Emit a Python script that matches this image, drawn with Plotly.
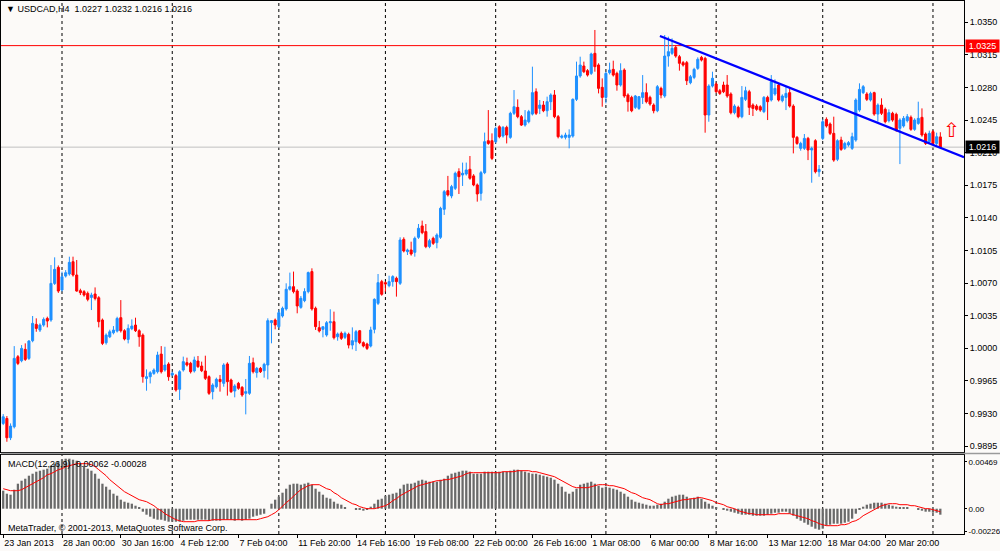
import plotly.graph_objects as go

# ---------------- data ----------------
bars = list(range(256))

opens = [0.99194,0.99247,0.99040,0.99158,0.99910,0.99867,0.99989,0.99892,1.00082,1.00257,
1.00196,1.00250,1.00321,1.00304,1.00697,1.00869,1.00626,1.00776,1.00798,1.00930,
1.00787,1.00619,1.00608,1.00590,1.00547,1.00583,1.00543,1.00304,1.00060,1.00124,
1.00167,1.00185,1.00329,1.00189,1.00096,1.00211,1.00250,1.00189,1.00142,0.99677,
0.99695,0.99731,0.99749,0.99938,0.99767,0.99831,0.99714,0.99707,0.99560,0.99767,
0.99846,0.99839,0.99757,0.99864,0.99810,0.99757,0.99696,0.99535,0.99588,0.99667,
0.99624,0.99832,0.99660,0.99542,0.99624,0.99581,0.99517,0.99517,0.99846,0.99739,
0.99785,0.99760,0.99821,1.00276,1.00304,1.00233,1.00347,1.00423,1.00634,1.00662,
1.00616,1.00440,1.00512,1.00609,1.00824,1.00430,1.00222,1.00204,1.00143,1.00275,
1.00286,1.00125,1.00161,1.00118,1.00150,1.00035,1.00071,1.00189,1.00061,1.00046,
1.00025,1.00204,1.00483,1.00716,1.00705,1.00673,1.00716,1.00752,1.00698,1.01170,
1.01038,1.01056,1.01031,1.01192,1.01314,1.01253,1.01092,1.01181,1.01135,1.01192,
1.01493,1.01693,1.01636,1.01718,1.01897,1.01861,1.01872,1.01922,1.01851,1.01754,
1.01664,1.01886,1.02229,1.02229,1.02218,1.02379,1.02279,1.02372,1.02265,1.02523,
1.02587,1.02487,1.02397,1.02433,1.02515,1.02755,1.02576,1.02612,1.02551,1.02648,
1.02720,1.02487,1.02265,1.02265,1.02265,1.02279,1.02673,1.02924,1.03031,1.02981,
1.02952,1.03167,1.03042,1.02802,1.02694,1.02959,1.02995,1.02952,1.02827,1.02988,
1.02720,1.02694,1.02587,1.02576,1.02694,1.02745,1.02694,1.02612,1.02551,1.02791,
1.02709,1.03138,1.03167,1.03231,1.03131,1.03067,1.03067,1.02852,1.02909,1.03006,
1.03124,1.03113,1.02505,1.02816,1.02838,1.02766,1.02827,1.02827,1.02730,1.02530,
1.02587,1.02487,1.02673,1.02755,1.02612,1.02601,1.02594,1.02541,1.02694,1.02666,
1.02730,1.02827,1.02659,1.02694,1.02745,1.02601,1.02265,1.02147,1.02147,1.02254,
1.02129,1.02229,1.01896,1.02254,1.02458,1.02408,1.02308,1.02029,1.02236,1.02147,
1.02183,1.02147,1.02236,1.02558,1.02745,1.02730,1.02666,1.02745,1.02515,1.02612,
1.02566,1.02444,1.02523,1.02512,1.02362,1.02387,1.02444,1.02480,1.02351,1.02415,
1.02480,1.02301,1.02218,1.02326,1.02200,1.02270]

highs = [0.99294,0.99273,0.99194,1.00024,0.99928,1.00035,1.00053,1.00089,1.00347,1.00322,
1.00268,1.00332,1.00340,1.00894,1.00977,1.00890,1.00823,1.00840,1.00984,1.00984,
1.00948,1.00640,1.00625,1.00610,1.00597,1.00654,1.00560,1.00320,1.00160,1.00200,
1.00239,1.00339,1.00518,1.00205,1.00257,1.00311,1.00329,1.00205,1.00160,0.99774,
0.99755,0.99785,0.99964,1.00024,1.00017,0.99850,0.99750,0.99725,0.99765,0.99911,
0.99900,0.99855,0.99911,0.99918,0.99857,0.99921,0.99710,0.99625,0.99685,0.99714,
0.99840,0.99850,0.99675,0.99615,0.99640,0.99595,0.99671,0.99918,0.99900,0.99800,
0.99800,0.99845,1.00322,1.00304,1.00320,1.00412,1.00448,1.00698,1.00813,1.00824,
1.00635,1.00562,1.00645,1.00824,1.00859,1.00448,1.00294,1.00232,1.00293,1.00419,
1.00394,1.00170,1.00180,1.00180,1.00168,1.00225,1.00197,1.00197,1.00075,1.00060,
1.00232,1.00537,1.00798,1.00735,1.00720,1.00780,1.00785,1.00770,1.01192,1.01192,
1.01070,1.01145,1.01200,1.01335,1.01371,1.01335,1.01175,1.01199,1.01235,1.01520,
1.01700,1.01851,1.01755,1.01897,1.01933,1.01994,1.01994,1.02065,1.01870,1.01770,
1.01905,1.02316,1.02558,1.02308,1.02380,1.02395,1.02387,1.02390,1.02540,1.02773,
1.02673,1.02505,1.02558,1.02560,1.03024,1.02791,1.02666,1.02655,1.02702,1.02738,
1.02773,1.02505,1.02295,1.02315,1.02351,1.02684,1.03078,1.03131,1.03078,1.02998,
1.03174,1.03418,1.03060,1.02898,1.02970,1.03067,1.03088,1.02970,1.03060,1.03006,
1.02738,1.02712,1.02720,1.02709,1.02934,1.02845,1.02712,1.02630,1.02827,1.02809,
1.03364,1.03346,1.03328,1.03250,1.03150,1.03085,1.03085,1.02935,1.03012,1.03124,
1.03140,1.03130,1.02835,1.02970,1.02855,1.02785,1.02863,1.02934,1.02748,1.02620,
1.02605,1.02816,1.02809,1.02775,1.02630,1.02620,1.02610,1.02709,1.02712,1.02934,
1.02888,1.02845,1.02727,1.02809,1.02791,1.02620,1.02280,1.02218,1.02301,1.02270,
1.02165,1.02245,1.01968,1.02458,1.02480,1.02425,1.02487,1.02245,1.02272,1.02218,
1.02225,1.02315,1.02684,1.02845,1.02827,1.02750,1.02755,1.02755,1.02630,1.02684,
1.02585,1.02566,1.02540,1.02530,1.02470,1.02494,1.02515,1.02500,1.02470,1.02648,
1.02576,1.02318,1.02337,1.02344,1.02315,1.02320]

lows = [0.99176,0.98997,0.99015,0.99140,0.99820,0.99850,0.99865,0.99875,1.00065,1.00178,
1.00175,1.00232,1.00225,1.00285,1.00680,1.00595,1.00610,1.00760,1.00780,1.00770,
1.00608,1.00572,1.00555,1.00505,1.00411,1.00515,1.00225,1.00035,1.00040,1.00110,
1.00150,1.00170,1.00170,1.00085,1.00053,1.00195,1.00175,1.00017,0.99631,0.99545,
0.99623,0.99715,0.99730,0.99730,0.99750,0.99652,0.99700,0.99535,0.99445,0.99750,
0.99805,0.99730,0.99740,0.99790,0.99745,0.99660,0.99500,0.99452,0.99570,0.99535,
0.99588,0.99492,0.99520,0.99474,0.99555,0.99480,0.99291,0.99500,0.99730,0.99685,
0.99735,0.99685,0.99667,1.00054,1.00204,1.00215,1.00330,1.00405,1.00620,1.00590,
1.00376,1.00425,1.00495,1.00590,1.00405,1.00197,1.00170,1.00118,1.00125,1.00189,
1.00095,1.00082,1.00090,1.00100,0.99999,0.99989,0.99971,1.00045,1.00010,0.99982,
1.00010,1.00161,1.00465,1.00565,1.00608,1.00655,1.00662,1.00555,1.00680,1.01030,
1.01002,1.00995,1.00984,1.01175,1.01225,1.01075,1.01075,1.01110,1.01074,1.01175,
1.01432,1.01630,1.01611,1.01700,1.01657,1.01743,1.01855,1.01810,1.01740,1.01575,
1.01586,1.01870,1.02185,1.02021,1.02200,1.02255,1.02262,1.02200,1.02250,1.02505,
1.02470,1.02387,1.02380,1.02415,1.02500,1.02505,1.02515,1.02535,1.02487,1.02558,
1.02470,1.02254,1.02250,1.02243,1.02147,1.02262,1.02655,1.02905,1.02955,1.02918,
1.02935,1.02970,1.02737,1.02594,1.02630,1.02940,1.02918,1.02766,1.02810,1.02690,
1.02541,1.02535,1.02570,1.02560,1.02623,1.02630,1.02605,1.02523,1.02535,1.02684,
1.02690,1.03024,1.03150,1.03120,1.02981,1.03025,1.02827,1.02835,1.02890,1.02990,
1.03080,1.02315,1.02433,1.02800,1.02740,1.02720,1.02740,1.02690,1.02512,1.02512,
1.02470,1.02470,1.02655,1.02505,1.02494,1.02550,1.02540,1.02525,1.02451,1.02650,
1.02712,1.02650,1.02641,1.02558,1.02585,1.02093,1.02185,1.02122,1.02130,1.02021,
1.01778,1.01878,1.01842,1.02236,1.02370,1.02290,1.02003,1.02010,1.02120,1.02130,
1.02165,1.02130,1.02218,1.02540,1.02730,1.02655,1.02650,1.02497,1.02433,1.02505,
1.02415,1.02425,1.02433,1.02325,1.01978,1.02370,1.02425,1.02335,1.02335,1.02400,
1.02272,1.02183,1.02200,1.02183,1.02183,1.02160]

closes = [0.99265,0.99040,0.99165,0.99892,0.99838,0.99999,0.99881,1.00078,1.00268,1.00214,
1.00250,1.00311,1.00293,1.00697,1.00848,1.00615,1.00769,1.00812,1.00923,1.00787,
1.00615,1.00597,1.00572,1.00526,1.00572,1.00536,1.00286,1.00053,1.00142,1.00178,
1.00196,1.00321,1.00189,1.00100,1.00214,1.00239,1.00189,1.00125,0.99695,0.99695,
0.99738,0.99767,0.99928,0.99749,0.99820,0.99695,0.99732,0.99553,0.99749,0.99857,
0.99821,0.99749,0.99875,0.99803,0.99760,0.99678,0.99517,0.99606,0.99667,0.99642,
0.99821,0.99642,0.99535,0.99596,0.99571,0.99499,0.99535,0.99839,0.99749,0.99785,
0.99749,0.99828,1.00297,1.00297,1.00251,1.00383,1.00430,1.00634,1.00662,1.00609,
1.00455,1.00537,1.00609,1.00813,1.00423,1.00233,1.00186,1.00232,1.00275,1.00286,
1.00114,1.00154,1.00107,1.00161,1.00035,1.00082,1.00179,1.00061,1.00025,0.99999,
1.00197,1.00526,1.00705,1.00580,1.00691,1.00716,1.00770,1.00716,1.01163,1.01045,
1.01056,1.01013,1.01181,1.01289,1.01242,1.01092,1.01156,1.01127,1.01217,1.01503,
1.01682,1.01647,1.01736,1.01879,1.01843,1.01879,1.01915,1.01826,1.01754,1.01657,
1.01886,1.02219,1.02200,1.02039,1.02361,1.02272,1.02372,1.02290,1.02523,1.02594,
1.02487,1.02397,1.02451,1.02541,1.02745,1.02523,1.02612,1.02551,1.02648,1.02720,
1.02487,1.02272,1.02279,1.02290,1.02290,1.02673,1.02924,1.03042,1.02970,1.02934,
1.03160,1.03024,1.02791,1.02694,1.02952,1.02988,1.02934,1.02827,1.02981,1.02709,
1.02648,1.02551,1.02709,1.02702,1.02745,1.02648,1.02623,1.02551,1.02809,1.02720,
1.03138,1.03185,1.03221,1.03138,1.03060,1.03042,1.02873,1.02916,1.02995,1.03103,
1.03095,1.02505,1.02816,1.02899,1.02755,1.02737,1.02755,1.02709,1.02530,1.02601,
1.02487,1.02694,1.02766,1.02587,1.02576,1.02566,1.02558,1.02694,1.02648,1.02863,
1.02791,1.02666,1.02709,1.02737,1.02601,1.02265,1.02200,1.02200,1.02254,1.02129,
1.02147,1.01896,1.01921,1.02433,1.02387,1.02308,1.02021,1.02229,1.02136,1.02200,
1.02208,1.02272,1.02666,1.02780,1.02809,1.02673,1.02737,1.02515,1.02612,1.02523,
1.02433,1.02530,1.02451,1.02344,1.02451,1.02469,1.02487,1.02351,1.02451,1.02469,
1.02290,1.02200,1.02308,1.02200,1.02272,1.02160]

# MACD(12,26,9), values in units of 0.0001
macd_main_e4 = [18,15,14,19,25,28,30,33,35,37,
38,39,40,43,45,47,49,50,50,49,
48,45,43,40,38,35,30,25,22,19,
15,13,9,7,6,5,3,1,-3,-6,
-8,-10,-11,-11,-12,-13,-13,-13,-13,-12,
-11,-11,-11,-11,-11,-11,-12,-12,-12,-12,
-11,-11,-11,-12,-11,-12,-11,-10,-8,-7,
-6,-5,0,5,9,12,16,20,24,25,
25,24,25,26,24,20,17,14,11,10,
7,5,4,1,0,0,-1,-1,-2,-1,
2,5,9,10,13,14,15,16,20,24,
25,25,26,28,29,28,27,27,27,29,
30,33,35,36,37,38,38,37,35,35,
35,37,37,37,37,37,37,37,38,39,
39,38,37,36,35,35,34,33,32,31,
29,25,22,17,15,17,20,24,25,26,
27,25,23,21,22,21,20,19,17,15,
12,9,7,6,5,4,3,3,4,5,
7,10,12,13,14,14,12,10,11,12,
10,7,5,3,1,0,-1,-2,-3,-4,
-5,-6,-6,-6,-7,-7,-7,-7,-6,-5,
-4,-4,-3,-3,-5,-7,-10,-12,-14,-16,
-18,-20,-21,-20,-17,-16,-15,-15,-15,-14,
-13,-10,-5,-1,2,4,5,6,6,6,
5,4,3,2,1,1,1,0,0,-1,
-2,-3,-3,-4,-4,-6]

macd_signal_e4 = [20,19,18,18,18,19,21,23,25,27,
29,31,34,35,37,39,40,42,43,44,
45,45,45,45,44,42,39,36,33,29,
26,23,20,17,15,13,11,9,8,7,
5,3,0,-2,-5,-7,-9,-11,-12,-13,
-13,-13,-13,-12,-12,-12,-12,-11,-11,-11,
-11,-11,-11,-11,-11,-11,-11,-11,-11,-11,
-10,-9,-8,-6,-4,-1,3,6,9,13,
16,19,21,23,24,24,24,22,20,19,
16,14,11,9,7,5,4,2,1,0,
0,0,1,2,3,5,8,10,13,15,
17,19,21,23,24,25,26,27,28,28,
29,29,30,31,32,33,35,36,36,36,
36,36,36,36,36,36,37,37,37,37,
38,38,38,38,37,37,36,35,34,33,
32,30,28,26,24,22,21,21,21,21,
22,23,24,24,24,23,23,22,21,20,
18,16,15,13,11,10,9,7,5,4,
5,5,6,7,8,9,9,10,10,11,
11,10,9,8,6,5,4,2,1,0,
-2,-3,-4,-5,-5,-6,-6,-6,-6,-6,
-6,-5,-5,-5,-5,-6,-7,-8,-9,-10,
-12,-13,-15,-16,-17,-17,-17,-17,-16,-16,
-15,-13,-12,-10,-7,-5,-3,-1,1,3,
4,5,5,5,4,4,4,3,3,2,
1,0,0,-1,-2,-3]

time_tick_bars = [0,16,32,48,64,80,96,112,128,144,160,176,192,208,224,240]
time_tick_labels = ["23 Jan 2013","28 Jan 00:00","30 Jan 16:00","4 Feb 12:00","7 Feb 04:00",
                    "11 Feb 20:00","14 Feb 16:00","19 Feb 08:00","22 Feb 00:00","26 Feb 16:00",
                    "1 Mar 08:00","6 Mar 00:00","8 Mar 16:00","13 Mar 12:00","18 Mar 04:00",
                    "20 Mar 20:00"]
week_separator_bars = [16,46,75,104,134,164,194,223,253]

price_tick_values = [1.0350,1.0315,1.0280,1.0245,1.0210,1.0175,1.0140,1.0105,1.0070,
                     1.0035,1.0000,0.9965,0.9930,0.9895]
macd_tick_values = [0.00469,0.0,-0.00226]
macd_tick_labels = ["0.00469","0.00","-0.00226"]

alert_level = 1.0325
bid_level = 1.0216
trend_bars = [178.7,261.44]
trend_prices = [1.03353,1.02051]
arrow_bar = 258.0
arrow_price = 1.02340

header_text = "▼ USDCAD,H4  1.0227 1.0232 1.0216 1.0216"
macd_text = "MACD(12,26,9) -0.00062 -0.00028"
copyright_text = "MetaTrader, © 2001-2013, MetaQuotes Software Corp."

# ---------------- figure ----------------
FONT = "Liberation Sans"
BG = "#FCFAF8"
W, H = 1000, 551
ML, MR, MT, MB = 1, 36, 1, 17
PH = H - MT - MB

def py(pix):   # pixel row -> paper y
    return (H - MB - pix) / PH

main_dom = [py(452), 1.0]
macd_dom = [0.0, py(455)]

fig = go.Figure()

fig.add_trace(go.Candlestick(
    x=bars, open=opens, high=highs, low=lows, close=closes,
    increasing=dict(line=dict(color="#1E90FF", width=1), fillcolor="#1E90FF"),
    decreasing=dict(line=dict(color="#FF0000", width=1), fillcolor="#FF0000"),
    whiskerwidth=0, xaxis="x", yaxis="y", showlegend=False, hoverinfo="skip"))

fig.add_trace(go.Scatter(x=trend_bars, y=trend_prices, mode="lines",
                         line=dict(color="#0000FF", width=2.2),
                         xaxis="x", yaxis="y", showlegend=False, hoverinfo="skip",
                         cliponaxis=True))

fig.add_trace(go.Bar(x=bars, y=[v * 1e-4 for v in macd_main_e4],
                     marker=dict(color="#6A6A6A", line=dict(width=0)),
                     width=0.62, xaxis="x2", yaxis="y2", showlegend=False, hoverinfo="skip"))
fig.add_trace(go.Scatter(x=bars, y=[v * 1e-4 for v in macd_signal_e4], mode="lines",
                         line=dict(color="#FF0000", width=1),
                         xaxis="x2", yaxis="y2", showlegend=False, hoverinfo="skip"))

xr = [-0.6, 261.44]
axis_common = dict(showgrid=False, zeroline=False, showline=True, mirror=True,
                   linecolor="black", linewidth=1, automargin=False)

fig.update_layout(
    width=W, height=H,
    margin=dict(l=ML, r=MR, t=MT, b=MB, autoexpand=False),
    paper_bgcolor=BG, plot_bgcolor=BG,
    font=dict(family=FONT, size=9, color="black"),
    boxgap=0.2,
    xaxis=dict(domain=[0, 1], range=xr, anchor="y", showticklabels=False, ticks="",
               rangeslider=dict(visible=False), **axis_common),
    yaxis=dict(domain=main_dom, range=[0.98887, 1.03729], side="right", anchor="x",
               tickmode="array", tickvals=price_tick_values,
               ticktext=[f"{v:.4f}" for v in price_tick_values],
               ticks="outside", ticklen=3, tickcolor="black",
               tickfont=dict(family=FONT, size=9, color="black"), **axis_common),
    xaxis2=dict(domain=[0, 1], range=xr, anchor="y2", matches="x",
                tickmode="array", tickvals=time_tick_bars, ticktext=time_tick_labels,
                ticks="outside", ticklen=3, tickcolor="black", tickangle=0,
                ticklabelposition="outside right",
                tickfont=dict(family=FONT, size=9, color="black"), **axis_common),
    yaxis2=dict(domain=macd_dom, range=[-0.00253, 0.00537], side="right", anchor="x2",
                tickmode="array", tickvals=macd_tick_values, ticktext=macd_tick_labels,
                ticks="outside", ticklen=2, tickcolor="black", ticklabelstandoff=0,
                tickfont=dict(family=FONT, size=8, color="black"), **axis_common),
)

shapes = []
for b in week_separator_bars:
    shapes.append(dict(type="line", xref="x", yref="paper", x0=b, x1=b, y0=0, y1=1,
                       line=dict(color="black", width=1, dash="3px,3px"), layer="below"))
shapes.append(dict(type="line", xref="x", yref="y", x0=xr[0], x1=xr[1],
                   y0=alert_level, y1=alert_level, line=dict(color="#FF0000", width=1),
                   layer="below"))
shapes.append(dict(type="line", xref="x", yref="y", x0=xr[0], x1=xr[1],
                   y0=bid_level, y1=bid_level, line=dict(color="#C0C0C0", width=1),
                   layer="below"))
# separator between the two panes
shapes.append(dict(type="line", xref="paper", yref="paper", x0=0, x1=1.0375,
                   y0=py(453.5), y1=py(453.5), line=dict(color="#9A9A9A", width=1.5)))
fig.update_layout(shapes=shapes)

ann = []
ann.append(dict(text=header_text, xref="paper", yref="paper", x=0.003, y=py(9),
                xanchor="left", yanchor="middle", showarrow=False,
                font=dict(family=FONT, size=9, color="black")))
ann.append(dict(text=macd_text, xref="paper", yref="paper", x=0.005, y=py(464),
                xanchor="left", yanchor="middle", showarrow=False,
                font=dict(family=FONT, size=9, color="black")))
ann.append(dict(text=copyright_text, xref="paper", yref="paper", x=0.005, y=py(528),
                xanchor="left", yanchor="middle", showarrow=False,
                font=dict(family=FONT, size=9, color="black")))
ann.append(dict(text=f"{alert_level:.4f}", xref="paper", yref="y", x=1.001, y=alert_level,
                xanchor="left", yanchor="middle", showarrow=False, bgcolor="#FF0000",
                width=33, height=12, align="center", borderpad=0,
                font=dict(family=FONT, size=9, color="white")))
ann.append(dict(text=f"{bid_level:.4f}", xref="paper", yref="y", x=1.001, y=bid_level,
                xanchor="left", yanchor="middle", showarrow=False, bgcolor="#000000",
                width=33, height=12, align="center", borderpad=0,
                font=dict(family=FONT, size=9, color="white")))
ann.append(dict(text="⇧", xref="x", yref="y", x=arrow_bar, y=arrow_price,
                xanchor="center", yanchor="middle", showarrow=False,
                font=dict(family="DejaVu Sans", size=20, color="#FF0000")))
fig.update_layout(annotations=ann)

fig.write_html("out.html", config={"displayModeBar": False},
               post_script="document.body.style.margin='0';document.body.style.overflow='hidden';")
